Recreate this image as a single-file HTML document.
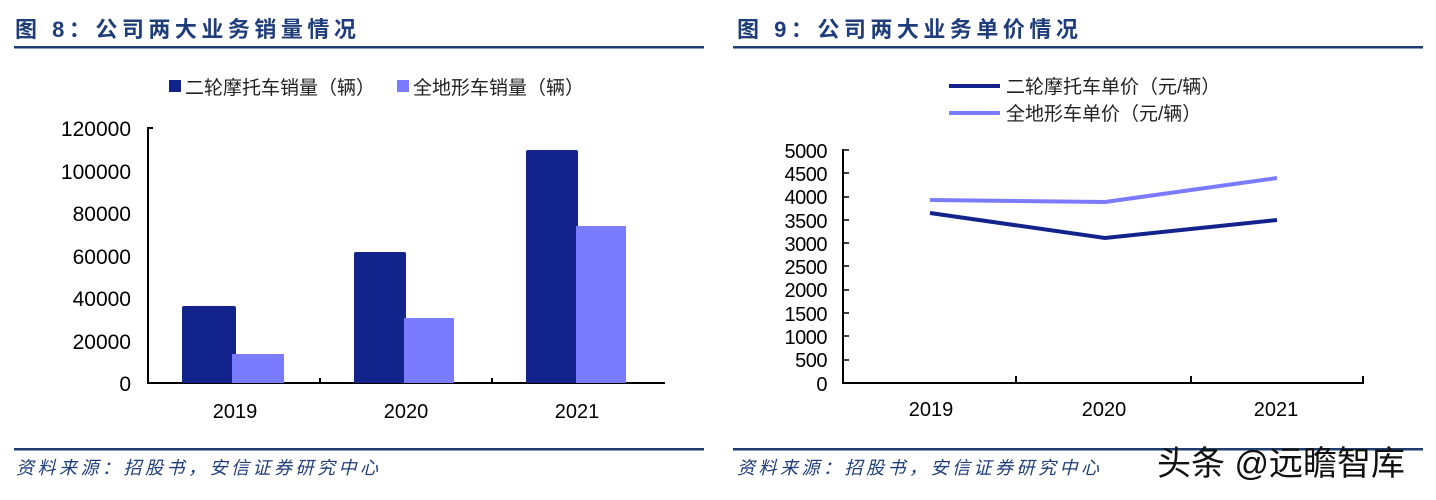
<!DOCTYPE html>
<html><head><meta charset="utf-8"><style>
body{margin:0;width:1436px;height:495px;background:#fff;overflow:hidden}
svg text{font-family:"Liberation Sans","Noto Sans CJK SC",sans-serif}
</style></head><body>
<svg width="1436" height="495" xmlns="http://www.w3.org/2000/svg">
<g fill="#1f3d7a" font-weight="bold" font-size="22" letter-spacing="4.5">
<text x="15" y="37">图 8：公司两大业务销量情况</text>
<text x="737" y="37">图 9：公司两大业务单价情况</text>
</g>
<rect x="14" y="46" width="690" height="2.5" fill="#1f3d6e"/>
<rect x="733" y="46" width="690" height="2.5" fill="#1f3d6e"/>
<rect x="14" y="448" width="690" height="2.5" fill="#1f3d6e"/>
<rect x="733" y="448" width="690" height="2.5" fill="#1f3d6e"/>
<g fill="#1f3d7a" font-style="italic" font-size="18" letter-spacing="3.5">
<text x="16" y="474">资料来源：招股书，安信证券研究中心</text>
<text x="737" y="474">资料来源：招股书，安信证券研究中心</text>
</g>
<text x="1157" y="475" font-size="34" fill="#111">头条 @远瞻智库</text>

<rect x="169" y="80" width="12" height="12" fill="#13238c"/>
<text x="185" y="94" font-size="19" fill="#222">二轮摩托车销量（辆）</text>
<rect x="397" y="80" width="12" height="12" fill="#7b7bff"/>
<text x="413" y="94" font-size="19" fill="#222">全地形车销量（辆）</text>
<g font-size="21" fill="#000" text-anchor="end">
<text x="131" y="136">120000</text><text x="131" y="179">100000</text><text x="131" y="221">80000</text>
<text x="131" y="264">60000</text><text x="131" y="306">40000</text><text x="131" y="349">20000</text><text x="131" y="391">0</text>
</g>
<g stroke="#000" stroke-width="2">
<line x1="148" y1="127" x2="148" y2="384"/><line x1="147" y1="383" x2="665" y2="383"/>
<line x1="148" y1="128" x2="153" y2="128"/>
<line x1="320" y1="383" x2="320" y2="378"/><line x1="492" y1="383" x2="492" y2="378"/>
</g>
<g fill="#13238c">
<rect x="182" y="306" width="54" height="77" rx="2"/><rect x="354" y="252" width="52" height="131" rx="2"/><rect x="526" y="150" width="52" height="233" rx="2"/>
</g>
<g fill="#7b7bff">
<rect x="232" y="354" width="52" height="29"/><rect x="404" y="318" width="50" height="65"/><rect x="576" y="226" width="50" height="157"/>
</g>
<g font-size="20" text-anchor="middle"><text x="235" y="418">2019</text><text x="406" y="418">2020</text><text x="577" y="418">2021</text></g>

<line x1="949" y1="86" x2="1000" y2="86" stroke="#13238c" stroke-width="4"/>
<text x="1006" y="93" font-size="19" fill="#222">二轮摩托车单价（元/辆）</text>
<line x1="949" y1="113" x2="1000" y2="113" stroke="#7b7bff" stroke-width="4"/>
<text x="1006" y="120" font-size="19" fill="#222">全地形车单价（元/辆）</text>
<g font-size="20" text-anchor="end" letter-spacing="-0.5">
<text x="827" y="158">5000</text><text x="827" y="181">4500</text><text x="827" y="204">4000</text><text x="827" y="228">3500</text>
<text x="827" y="251">3000</text><text x="827" y="274">2500</text><text x="827" y="297">2000</text><text x="827" y="321">1500</text>
<text x="827" y="344">1000</text><text x="827" y="367">500</text><text x="827" y="391">0</text>
</g>
<g stroke="#000" stroke-width="2">
<line x1="843" y1="149" x2="843" y2="384"/><line x1="842" y1="383" x2="1364" y2="383"/>
<line x1="1016" y1="383" x2="1016" y2="376"/><line x1="1191" y1="383" x2="1191" y2="376"/><line x1="1363" y1="383" x2="1363" y2="376"/>
</g>
<g stroke="#000" stroke-width="1.5">
<line x1="843" y1="150" x2="849" y2="150"/><line x1="843" y1="173" x2="849" y2="173"/><line x1="843" y1="197" x2="849" y2="197"/>
<line x1="843" y1="220" x2="849" y2="220"/><line x1="843" y1="243" x2="849" y2="243"/><line x1="843" y1="266" x2="849" y2="266"/>
<line x1="843" y1="290" x2="849" y2="290"/><line x1="843" y1="313" x2="849" y2="313"/><line x1="843" y1="336" x2="849" y2="336"/>
<line x1="843" y1="360" x2="849" y2="360"/>
</g>
<polyline points="930,200 1105,202 1277,178" fill="none" stroke="#7b7bff" stroke-width="4"/>
<polyline points="930,213 1105,238 1277,220" fill="none" stroke="#13238c" stroke-width="4"/>
<g font-size="20" text-anchor="middle"><text x="931" y="416">2019</text><text x="1104" y="416">2020</text><text x="1276" y="416">2021</text></g>
</svg>
</body></html>
